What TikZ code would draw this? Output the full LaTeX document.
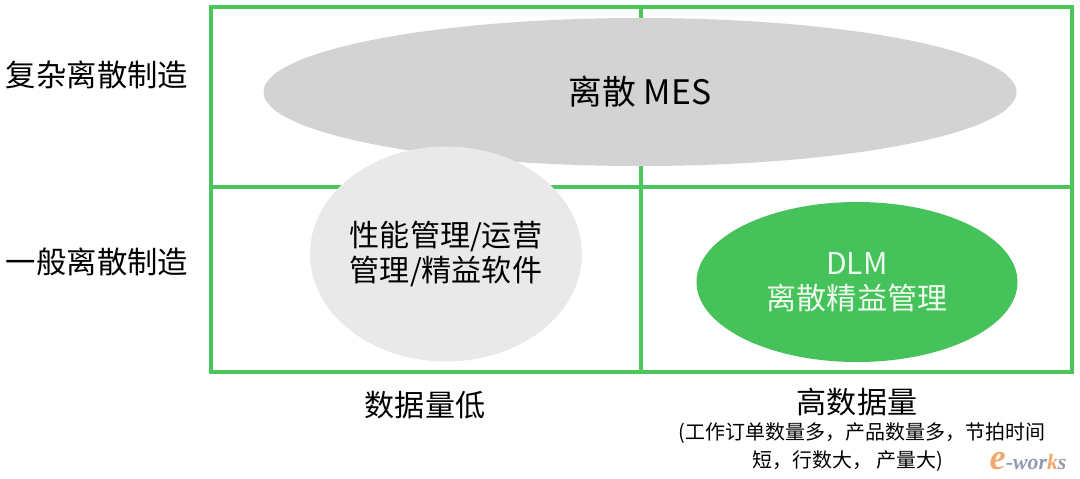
\documentclass[tikz,border=0pt]{standalone}
\usepackage{fontspec}
\setmainfont{Noto Sans CJK SC}
\newfontfamily\logofont{Liberation Serif}
\usetikzlibrary{shapes.geometric}
\definecolor{mygreen}{RGB}{76, 197, 91}
\definecolor{mygreen2}{RGB}{69, 195, 90}
\definecolor{mygray1}{RGB}{211, 211, 211}
\definecolor{mygray2}{RGB}{233, 233, 233}
\definecolor{mywhite}{RGB}{238, 250, 238}
\definecolor{myorange}{RGB}{236, 140, 60}
\definecolor{mylogo}{RGB}{110, 120, 150}
\tikzset{gridline/.style={mygreen, line width=2.8pt},
  blob/.style={ellipse, inner sep=0pt, align=center},
  bigtext/.style={font=\fontsize{21.6}{26}\selectfont},
  midtext/.style={font=\fontsize{21.4}{25}\selectfont, align=center},
  smalltext/.style={font=\fontsize{14.2}{16}\selectfont}}

\begin{document}
\begin{tikzpicture}
\useasboundingbox (0,0) rectangle (27,-11.95);
\fill[white] (0,0) rectangle (27,-11.95);

\draw[gridline] (5.275,-0.175) rectangle (26.8,-9.3);
\draw[gridline] (16.025,-0.175) -- (16.025,-9.3);
\draw[gridline] (5.275,-4.675) -- (26.8,-4.675);

\node[blob, fill=mygray1, minimum width=18.825cm, minimum height=3.7cm, font=\fontsize{24}{28}\selectfont] (mes) at (16.0,-2.3) {\raisebox{3pt}{离散 MES}};
\node[blob, fill=mygray2, minimum width=5.95cm, minimum height=5.375cm, midtext] (perf) at (11.15,-6.35) {性能管理/运营\\管理/精益软件};
\node[blob, fill=mygreen2, minimum width=8.025cm, minimum height=4.0cm, midtext, text=mywhite] (dlm) at (21.425,-7.05) {DLM\\离散精益管理};

\node[bigtext] (complex) at (2.425,-1.875) {复杂离散制造};
\node[bigtext] (general) at (2.425,-6.55) {一般离散制造};

\node[midtext] (low) at (10.625,-10.125) {数据量低};
\node[midtext] (high) at (21.425,-10.05) {高数据量};
\node[smalltext] (note1) at (21.55,-10.825) {(工作订单数量多，产品数量多，节拍时间};
\node[smalltext] (note2) at (21.2,-11.525) {短，行数大， 产量大)};

\node[opacity=0.75, inner sep=0pt] (logo) at (25.7,-11.52) {\logofont\bfseries\itshape\fontsize{15.5}{15}\selectfont\textcolor{myorange}{\fontsize{26}{26}\selectfont e}\textcolor{mylogo}{-wor}\textcolor{myorange}{k}\textcolor{mylogo}{s}};
\end{tikzpicture}
\end{document}
